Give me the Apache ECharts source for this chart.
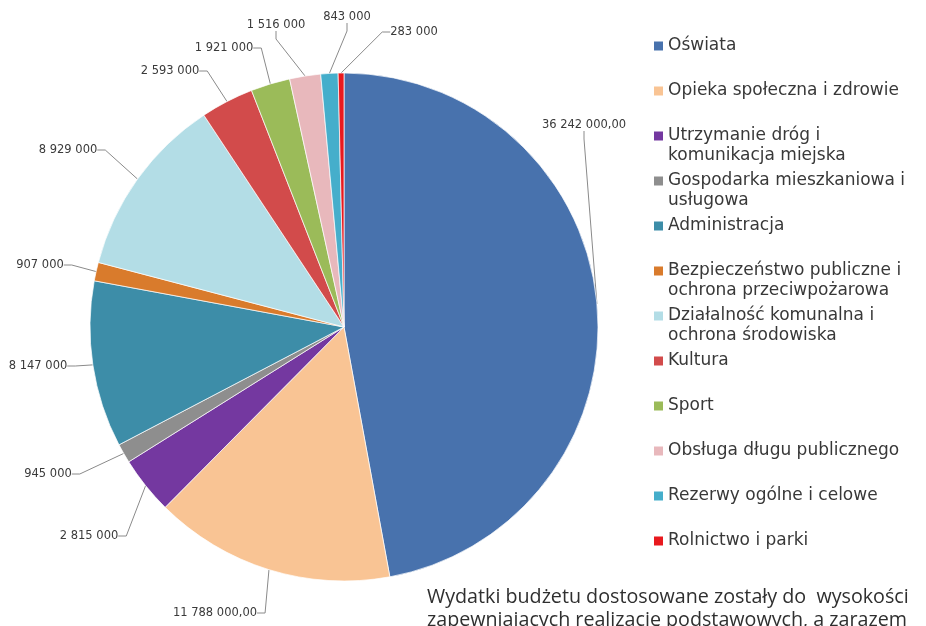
<!DOCTYPE html>
<html><head><meta charset="utf-8">
<script src="https://cdn.jsdelivr.net/npm/echarts@6/dist/echarts.min.js"></script>
<style>html,body{margin:0;padding:0;background:#fff}#c{width:926px;height:626px}</style>
</head><body><div id="c"></div>
<script>
var categories = ['Oświata','Opieka społeczna i zdrowie','Utrzymanie dróg i komunikacja miejska','Gospodarka mieszkaniowa i usługowa','Administracja','Bezpieczeństwo publiczne i ochrona przeciwpożarowa','Działalność komunalna i ochrona środowiska','Kultura','Sport','Obsługa długu publicznego','Rezerwy ogólne i celowe','Rolnictwo i parki'];
var legendLabels = ['Oświata','Opieka społeczna i zdrowie','Utrzymanie dróg i\nkomunikacja miejska','Gospodarka mieszkaniowa i\nusługowa','Administracja','Bezpieczeństwo publiczne i\nochrona przeciwpożarowa','Działalność komunalna i\nochrona środowiska','Kultura','Sport','Obsługa długu publicznego','Rezerwy ogólne i celowe','Rolnictwo i parki'];
var values = [36242000, 11788000, 2815000, 945000, 8147000, 907000, 8929000, 2593000, 1921000, 1516000, 843000, 283000];
var valueLabels = ['36 242 000,00','11 788 000,00','2 815 000','945 000','8 147 000','907 000','8 929 000','2 593 000','1 921 000','1 516 000','843 000','283 000'];
var colors = ['#4872AD','#F9C494','#7438A0','#8E8E8E','#3D8DA8','#D97B2C','#B3DDE6','#D24B4B','#9BBB59','#E8B8BC','#45AECB','#E8191E'];
var paragraph = ['Wydatki budżetu dostosowane zostały do  wysokości','zapewniających realizację podstawowych, a zarazem'];

// layout of the value labels (label centres, px) — placement only, not data
var labelAnchors = [[584,125],[215,613],[89,536],[48,474],[38,366],[40,265],[68,150],[170,71],[224,48],[276,25],[347,17],[414,32]];

var iconSq = 'path://M0,0M9,60M0,25.5L9,25.5L9,34.5L0,34.5Z';

var chart = echarts.init(document.getElementById('c'));
chart.setOption({
  animation: false,
  color: colors,
  legend: {
    orient: 'vertical', left: 654, top: 16, padding: 0,
    itemWidth: 9, itemHeight: 60, itemGap: -15,
    icon: iconSq,
    itemStyle: { borderWidth: 0 },
    data: categories,
    formatter: function (name) {
      var t = legendLabels[categories.indexOf(name)];
      return t.indexOf('\n') >= 0 ? '\n' + t : t;
    },
    textStyle: { fontFamily: 'DejaVu Sans', fontSize: 17, lineHeight: 20, color: '#383838' }
  },
  graphic: [{
    type: 'text', left: 427, top: 586,
    style: { text: paragraph.join('\n'), fontFamily: 'Open Sans', fontSize: 19.7, lineHeight: 23, fill: '#2f2f2f' }
  }],
  series: [{
    type: 'pie',
    center: [344, 327], radius: 254,
    startAngle: 90, clockwise: true,
    data: categories.map(function (n, i) { return { name: n, value: values[i] }; }),
    label: {
      show: true, position: 'outside',
      formatter: function (p) { return valueLabels[p.dataIndex]; },
      fontFamily: 'DejaVu Sans', fontSize: 11.5, color: '#3a3a3a'
    },
    labelLayout: function (p) {
      var a = labelAnchors[p.dataIndex];
      return { x: a[0], y: a[1], align: 'center', verticalAlign: 'middle' };
    },
    labelLine: { show: true, length: 14, length2: 8, lineStyle: { color: '#8a8a8a', width: 1 } },
    itemStyle: { borderColor: '#ffffff', borderWidth: 0.7 },
    emphasis: { disabled: true }
  }]
});
</script></body></html>
